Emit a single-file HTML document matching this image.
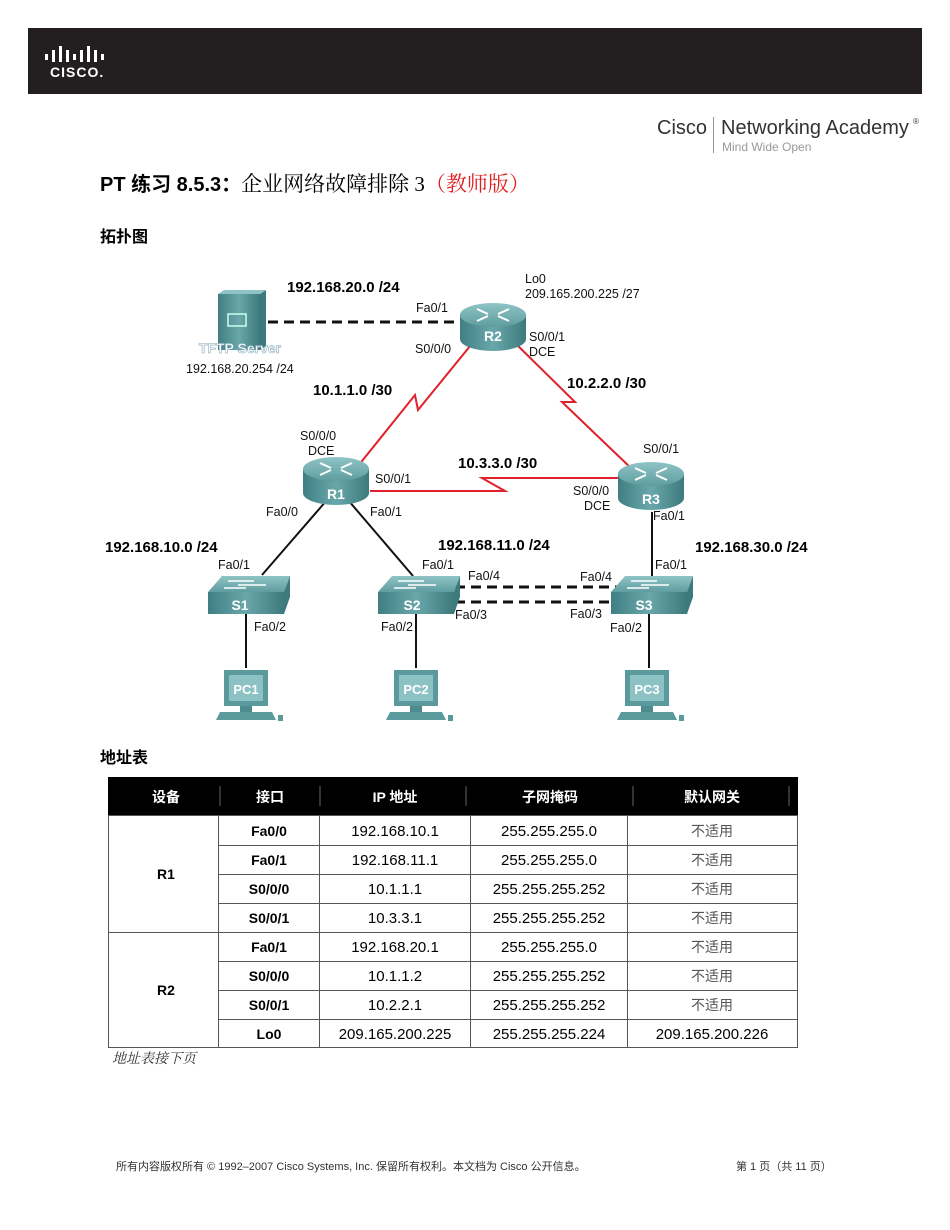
<!DOCTYPE html>
<html><head><meta charset="utf-8"><style>
body{margin:0;background:#fff;width:950px;height:1230px;overflow:hidden;font-family:"Liberation Sans","Noto Sans CJK SC",sans-serif}
svg{position:absolute;left:0;top:0}
</style></head><body>
<svg width="950" height="1230" viewBox="0 0 950 1230" xmlns="http://www.w3.org/2000/svg" font-family="Liberation Sans, Noto Sans CJK SC, sans-serif">
<defs>
<linearGradient id="tl" x1="0" y1="0" x2="0" y2="1"><stop offset="0" stop-color="#8fc4c6"/><stop offset="1" stop-color="#5f9da0"/></linearGradient>
<linearGradient id="bd" x1="0" y1="0" x2="1" y2="0"><stop offset="0" stop-color="#3f7f83"/><stop offset=".5" stop-color="#6aa7aa"/><stop offset="1" stop-color="#3c7a7e"/></linearGradient>
<g id="router">
<path d="M-33 0 V24 A33 12 0 0 0 33 24 V0 Z" fill="url(#bd)"/>
<ellipse cx="0" cy="0" rx="33" ry="12" fill="url(#tl)"/>
<g stroke="#fff" stroke-width="2" fill="none"><path d="M-16 -6 L-5 -1 M16 -6 L5 -1 M-16 6 L-5 1 M16 6 L5 1"/></g>
</g>
<g id="switch">
<path d="M-38 -5 L-24 -21 L44 -21 L38 -5 Z" fill="url(#tl)"/>
<path d="M38 -5 L44 -21 L44 0 L38 17 Z" fill="#3c7a7e"/>
<rect x="-38" y="-5" width="76" height="22" fill="url(#bd)"/>
<g stroke="#fff" stroke-width="1.5"><path d="M-18 -16 H8 M-8 -12 H20 M-22 -9 H0"/></g>
</g>
<g id="pc">
<rect x="-22" y="-20" width="44" height="36" fill="#5a9a9d"/>
<rect x="-17" y="-15" width="34" height="26" fill="#8cc2c4"/>
<path d="M-26 22 L26 22 L30 30 L-30 30 Z" fill="#5a9a9d"/>
<rect x="-6" y="16" width="12" height="6" fill="#4d8b8e"/>
<rect x="32" y="25" width="5" height="6" fill="#5a9a9d"/>
</g>
</defs>
<rect x="28" y="28" width="894" height="66" fill="#231f20"/>
<g fill="#fff">
<rect x="45" y="54" width="3" height="6"/><rect x="52" y="50" width="3" height="12"/><rect x="59" y="46" width="3" height="16"/><rect x="66" y="50" width="3" height="12"/><rect x="73" y="54" width="3" height="6"/><rect x="80" y="50" width="3" height="12"/><rect x="87" y="46" width="3" height="16"/><rect x="94" y="50" width="3" height="12"/><rect x="101" y="54" width="3" height="6"/>
</g>
<text x="50" y="77" fill="#fff" font-size="14" font-weight="bold" letter-spacing="1">CISCO.</text>
<text x="657" y="134" font-size="20" fill="#333">Cisco</text>
<rect x="713" y="117" width="1" height="36" fill="#999"/>
<text x="721" y="134" font-size="20" fill="#333">Networking Academy</text>
<text x="913" y="124" font-size="8" fill="#333">®</text>
<text x="722" y="151" font-size="12" fill="#999">Mind Wide Open</text>
<text x="100" y="191" font-size="20" font-weight="bold">PT 练习 8.5.3：<tspan font-weight="normal" font-family="Liberation Serif, Noto Serif CJK SC, serif" font-size="21">企业网络故障排除 3</tspan><tspan fill="#e02020" font-weight="normal" font-family="Liberation Serif, Noto Serif CJK SC, serif" font-size="21">（教师版）</tspan></text>
<text x="100" y="242" font-size="16" font-weight="bold">拓扑图</text>
<g stroke="#e0202a" stroke-width="2" fill="none">
<path d="M475 340 L418 410 L415 395 L358 466"/>
<path d="M512 340 L575 402 L562 402 L633 470"/>
<path d="M370 491 L505 491 L482 478 L618 478"/>
</g>
<g stroke="#111" stroke-width="2" fill="none">
<path d="M327 500 L262 575 M348 500 L413 576 M652 512 L652 576 M246 614 L246 668 M416 614 L416 668 M649 614 L649 668"/>
</g>
<g stroke="#111" stroke-width="3" fill="none" stroke-dasharray="10,6">
<path d="M268 322 L460 322 M455 587 L620 587 M455 602 L615 602"/>
</g>
<rect x="218" y="294" width="42" height="56" fill="url(#bd)"/>
<path d="M260 294 L266 290 L266 346 L260 350 Z" fill="#3c7a7e"/>
<path d="M218 294 L224 290 L266 290 L260 294 Z" fill="#8fc4c6"/>
<rect x="228" y="314" width="18" height="12" fill="none" stroke="#cfe" stroke-width="1.5"/>
<text x="240" y="353" font-size="14" font-weight="bold" fill="#fff" stroke="#8ab" stroke-width=".6" text-anchor="middle">TFTP Server</text>
<use href="#router" x="493" y="315"/>
<use href="#router" x="336" y="469"/>
<use href="#router" x="651" y="474"/>
<g font-size="14" font-weight="bold" fill="#fff" text-anchor="middle"><text x="493" y="341">R2</text><text x="336" y="499">R1</text><text x="651" y="504">R3</text></g>
<use href="#switch" x="246" y="597"/>
<use href="#switch" x="416" y="597"/>
<use href="#switch" x="649" y="597"/>
<g font-size="14" font-weight="bold" fill="#fff" text-anchor="middle"><text x="240" y="610">S1</text><text x="412" y="610">S2</text><text x="644" y="610">S3</text></g>
<use href="#pc" x="246" y="690"/>
<use href="#pc" x="416" y="690"/>
<use href="#pc" x="647" y="690"/>
<g font-size="13" font-weight="bold" fill="#fff" text-anchor="middle"><text x="246" y="694">PC1</text><text x="416" y="694">PC2</text><text x="647" y="694">PC3</text></g>
<g font-size="15" font-weight="bold">
<text x="287" y="292">192.168.20.0 /24</text>
<text x="313" y="395">10.1.1.0 /30</text>
<text x="567" y="388">10.2.2.0 /30</text>
<text x="458" y="468">10.3.3.0 /30</text>
<text x="105" y="552">192.168.10.0 /24</text>
<text x="438" y="550">192.168.11.0 /24</text>
<text x="695" y="552">192.168.30.0 /24</text>
</g>
<g font-size="12.5" fill="#111">
<text x="525" y="283">Lo0</text><text x="525" y="298">209.165.200.225 /27</text>
<text x="416" y="312">Fa0/1</text>
<text x="415" y="353">S0/0/0</text>
<text x="529" y="341">S0/0/1</text><text x="529" y="356">DCE</text>
<text x="186" y="373">192.168.20.254 /24</text>
<text x="300" y="440">S0/0/0</text><text x="308" y="455">DCE</text>
<text x="375" y="483">S0/0/1</text>
<text x="643" y="453">S0/0/1</text>
<text x="573" y="495">S0/0/0</text><text x="584" y="510">DCE</text>
<text x="653" y="520">Fa0/1</text>
<text x="266" y="516">Fa0/0</text><text x="370" y="516">Fa0/1</text>
<text x="218" y="569">Fa0/1</text><text x="422" y="569">Fa0/1</text><text x="655" y="569">Fa0/1</text>
<text x="468" y="580">Fa0/4</text><text x="580" y="581">Fa0/4</text>
<text x="455" y="619">Fa0/3</text><text x="570" y="618">Fa0/3</text>
<text x="254" y="631">Fa0/2</text><text x="381" y="631">Fa0/2</text><text x="610" y="632">Fa0/2</text>
</g>
<text x="100" y="763" font-size="16" font-weight="bold">地址表</text>
<rect x="108" y="777" width="690" height="38" fill="#000"/>
<g stroke="#666" stroke-width="1"><path d="M220 786 V806 M320 786 V806 M466 786 V806 M633 786 V806 M789 786 V806"/></g>
<g fill="#fff" font-size="14" font-weight="bold" text-anchor="middle">
<text x="166" y="802">设备</text><text x="270" y="802">接口</text><text x="395" y="802">IP 地址</text><text x="550" y="802">子网掩码</text><text x="712" y="802">默认网关</text>
</g>
<g stroke="#555" stroke-width="1" fill="none">
<rect x="108.5" y="815.5" width="689" height="232"/>
<path d="M108 932.5 H798 M218.5 815 V1048 M319.5 815 V1048 M470.5 815 V1048 M627.5 815 V1048"/>
<path d="M218 845.5 H798 M218 874.5 H798 M218 903.5 H798 M218 961.5 H798 M218 990.5 H798 M218 1019.5 H798"/>
</g>
<g font-size="14" text-anchor="middle">
<text x="166" y="879" font-weight="bold">R1</text><text x="166" y="995" font-weight="bold">R2</text>
<g font-weight="bold"><text x="269" y="836">Fa0/0</text><text x="269" y="865">Fa0/1</text><text x="269" y="894">S0/0/0</text><text x="269" y="923">S0/0/1</text><text x="269" y="952">Fa0/1</text><text x="269" y="981">S0/0/0</text><text x="269" y="1010">S0/0/1</text><text x="269" y="1039">Lo0</text></g>
<g font-size="15"><text x="395" y="836">192.168.10.1</text><text x="395" y="865">192.168.11.1</text><text x="395" y="894">10.1.1.1</text><text x="395" y="923">10.3.3.1</text><text x="395" y="952">192.168.20.1</text><text x="395" y="981">10.1.1.2</text><text x="395" y="1010">10.2.2.1</text><text x="395" y="1039">209.165.200.225</text>
<text x="549" y="836">255.255.255.0</text><text x="549" y="865">255.255.255.0</text><text x="549" y="894">255.255.255.252</text><text x="549" y="923">255.255.255.252</text><text x="549" y="952">255.255.255.0</text><text x="549" y="981">255.255.255.252</text><text x="549" y="1010">255.255.255.252</text><text x="549" y="1039">255.255.255.224</text>
<text x="712" y="1039">209.165.200.226</text></g>
<g fill="#555"><text x="712" y="836">不适用</text><text x="712" y="865">不适用</text><text x="712" y="894">不适用</text><text x="712" y="923">不适用</text><text x="712" y="952">不适用</text><text x="712" y="981">不适用</text><text x="712" y="1010">不适用</text></g>
</g>
<text x="112" y="1063" font-size="14" font-style="italic" fill="#333" font-family="Liberation Serif, Noto Serif CJK SC, serif">地址表接下页</text>
<text x="116" y="1170" font-size="11" fill="#333">所有内容版权所有 © 1992–2007 Cisco Systems, Inc. 保留所有权利。本文档为 Cisco 公开信息。</text>
<text x="736" y="1170" font-size="11" fill="#333">第 1 页（共 11 页）</text>
</svg>
</body></html>
